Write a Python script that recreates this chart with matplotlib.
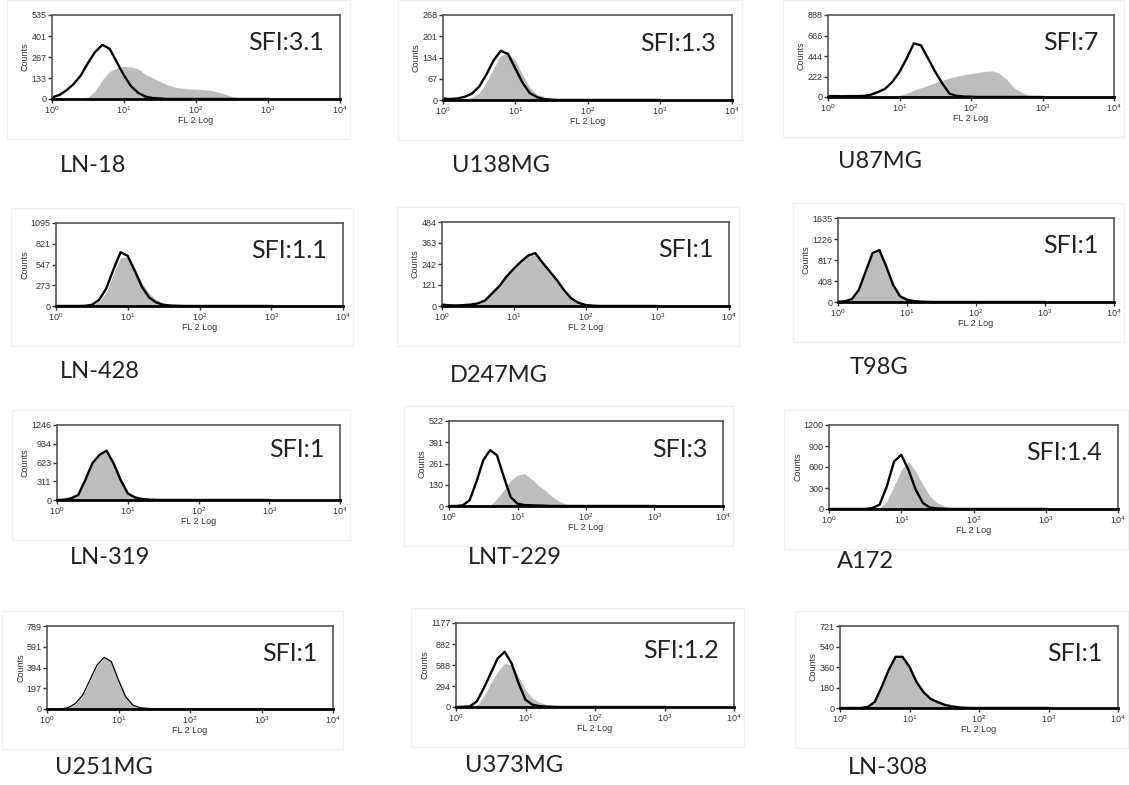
import numpy as np
import matplotlib
matplotlib.use("Agg")
import matplotlib.pyplot as plt
from matplotlib.ticker import NullLocator

plt.rcParams['font.family'] = ['Liberation Sans', 'DejaVu Sans']
plt.rcParams['mathtext.fontset'] = 'custom'
plt.rcParams['mathtext.rm'] = 'Liberation Sans'
plt.rcParams['mathtext.default'] = 'regular'

# === Data: FL2 histograms (log10 channel 0.0 .. 3.0, step 0.1) ===
log_fl = [0.0, 0.1, 0.2, 0.3, 0.4, 0.5, 0.6, 0.7, 0.8, 0.9,
          1.0, 1.1, 1.2, 1.3, 1.4, 1.5, 1.6, 1.7, 1.8, 1.9,
          2.0, 2.1, 2.2, 2.3, 2.4, 2.5, 2.6, 2.7, 2.8, 2.9, 3.0]

ln18_ctrl = [10, 25, 55, 95, 150, 230, 300, 345, 320, 235, 150, 80, 38, 15, 6, 3,
             0, 0, 0, 0, 0, 0, 0, 0, 0, 0, 0, 0, 0, 0, 0]
ln18_stain = [0, 0, 0, 2, 5, 12, 50, 123, 175, 198, 207, 205, 190, 155, 135, 112,
              90, 76, 70, 64, 63, 60, 55, 45, 32, 15, 8, 3, 1, 0, 0]

u138_ctrl = [5, 3, 5, 10, 20, 42, 80, 125, 155, 145, 100, 55, 22, 9, 3, 1,
             0, 0, 0, 0, 0, 0, 0, 0, 0, 0, 0, 0, 0, 0, 0]
u138_stain = [0, 0, 0, 2, 8, 22, 55, 100, 140, 148, 125, 80, 40, 18, 9, 5,
              3, 2, 1, 0, 0, 0, 0, 0, 0, 0, 0, 0, 0, 0, 0]

u87_ctrl = [10, 10, 8, 10, 10, 12, 25, 54, 90, 163, 272, 417, 580, 560, 417, 272,
            145, 36, 12, 5, 3, 0, 0, 0, 0, 0, 0, 0, 0, 0, 0]
u87_stain = [0, 0, 0, 0, 0, 0, 0, 2, 5, 10, 18, 40, 72, 100, 127, 155,
             181, 205, 225, 240, 254, 265, 279, 283, 255, 190, 101, 54, 18, 6, 2]

ln428_ctrl = [0, 0, 0, 0, 2, 15, 80, 230, 480, 710, 660, 460, 250, 110, 45, 15,
              6, 3, 0, 0, 0, 0, 0, 0, 0, 0, 0, 0, 0, 0, 0]
ln428_stain = [0, 0, 0, 0, 0, 8, 55, 180, 420, 640, 650, 490, 300, 165, 80, 38,
               18, 10, 4, 0, 0, 0, 0, 0, 0, 0, 0, 0, 0, 0, 0]

d247_ctrl = [8, 4, 3, 5, 8, 15, 32, 73, 115, 170, 215, 255, 290, 305, 250, 200,
             150, 92, 44, 19, 6, 2, 0, 0, 0, 0, 0, 0, 0, 0, 0]
d247_stain = [0, 0, 0, 0, 4, 12, 30, 68, 112, 168, 210, 250, 285, 295, 245, 195,
              145, 90, 42, 18, 6, 2, 0, 0, 0, 0, 0, 0, 0, 0, 0]

t98_ctrl = [5, 15, 55, 230, 590, 950, 1010, 690, 330, 110, 45, 18, 7, 3, 0, 0,
            0, 0, 0, 0, 0, 0, 0, 0, 0, 0, 0, 0, 0, 0, 0]
t98_stain = [0, 10, 45, 210, 560, 920, 990, 670, 320, 105, 42, 17, 7, 3, 0, 0,
             0, 0, 0, 0, 0, 0, 0, 0, 0, 0, 0, 0, 0, 0, 0]

ln319_ctrl = [0, 5, 28, 83, 332, 609, 748, 820, 609, 332, 111, 44, 17, 6, 2, 0,
              0, 0, 0, 0, 0, 0, 0, 0, 0, 0, 0, 0, 0, 0, 0]
ln319_stain = [0, 3, 22, 75, 310, 590, 735, 805, 620, 350, 130, 55, 25, 12, 6, 3,
               1, 0, 0, 0, 0, 0, 0, 0, 0, 0, 0, 0, 0, 0, 0]

lnt229_ctrl = [0, 0, 4, 35, 148, 281, 343, 312, 179, 55, 14, 6, 4, 3, 2, 0,
               0, 0, 0, 0, 0, 0, 0, 0, 0, 0, 0, 0, 0, 0, 0]
lnt229_stain = [0, 0, 0, 0, 0, 0, 4, 45, 97, 158, 189, 199, 168, 127, 97, 60,
                31, 14, 5, 2, 0, 0, 0, 0, 0, 0, 0, 0, 0, 0, 0]

a172_ctrl = [0, 0, 0, 0, 0, 0, 14, 62, 322, 678, 773, 560, 275, 85, 19, 8,
             3, 0, 0, 0, 0, 0, 0, 0, 0, 0, 0, 0, 0, 0, 0]
a172_stain = [0, 0, 0, 0, 0, 0, 0, 10, 109, 322, 560, 678, 536, 346, 180, 85,
              38, 18, 8, 3, 0, 0, 0, 0, 0, 0, 0, 0, 0, 0, 0]

u251_ctrl = [0, 0, 0, 13, 54, 133, 276, 418, 491, 450, 276, 117, 38, 13, 6, 3,
             2, 0, 0, 0, 0, 0, 0, 0, 0, 0, 0, 0, 0, 0, 0]
u251_stain = [0, 0, 0, 10, 50, 128, 270, 410, 485, 445, 272, 115, 36, 12, 5, 3,
              2, 0, 0, 0, 0, 0, 0, 0, 0, 0, 0, 0, 0, 0, 0]

u373_ctrl = [0, 3, 9, 79, 264, 473, 681, 774, 612, 334, 102, 32, 12, 5, 2, 0,
             0, 0, 0, 0, 0, 0, 0, 0, 0, 0, 0, 0, 0, 0, 0]
u373_stain = [0, 0, 3, 20, 148, 334, 496, 612, 589, 426, 241, 125, 65, 35, 20, 12,
              8, 4, 2, 0, 0, 0, 0, 0, 0, 0, 0, 0, 0, 0, 0]

ln308_ctrl = [0, 0, 0, 0, 9, 53, 185, 333, 450, 450, 362, 230, 141, 82, 53, 29,
              15, 6, 2, 0, 0, 0, 0, 0, 0, 0, 0, 0, 0, 0, 0]
ln308_stain = [0, 0, 0, 0, 6, 45, 170, 320, 440, 445, 360, 232, 145, 85, 55, 30,
               16, 7, 2, 0, 0, 0, 0, 0, 0, 0, 0, 0, 0, 0, 0]

cell_lines = ['LN-18', 'U138MG', 'U87MG', 'LN-428', 'D247MG', 'T98G',
              'LN-319', 'LNT-229', 'A172', 'U251MG', 'U373MG', 'LN-308']
sfi_labels = ['SFI:3.1', 'SFI:1.3', 'SFI:7', 'SFI:1.1', 'SFI:1', 'SFI:1',
              'SFI:1', 'SFI:3', 'SFI:1.4', 'SFI:1', 'SFI:1.2', 'SFI:1']
ytick_labels = [[0, 133, 267, 401, 535], [0, 67, 134, 201, 268], [0, 222, 444, 666, 888],
                [0, 273, 547, 821, 1095], [0, 121, 242, 363, 484], [0, 408, 817, 1226, 1635],
                [0, 311, 623, 934, 1246], [0, 130, 261, 391, 522], [0, 300, 600, 900, 1200],
                [0, 197, 394, 591, 789], [0, 294, 588, 882, 1177], [0, 180, 360, 540, 721]]
controls = [ln18_ctrl, u138_ctrl, u87_ctrl, ln428_ctrl, d247_ctrl, t98_ctrl,
            ln319_ctrl, lnt229_ctrl, a172_ctrl, u251_ctrl, u373_ctrl, ln308_ctrl]
stained = [ln18_stain, u138_stain, u87_stain, ln428_stain, d247_stain, t98_stain,
           ln319_stain, lnt229_stain, a172_stain, u251_stain, u373_stain, ln308_stain]

# === Layout (pixel boxes of each plot: left, top, right, bottom) ===
W, H = 1129, 785
boxes = [(52, 15, 340, 99), (443, 15, 732, 100), (828, 15, 1114, 97),
         (56, 223, 343, 306), (442, 222, 729, 306), (838, 218, 1114, 302),
         (57, 425, 340, 500), (449, 421, 723, 506), (829, 425, 1118, 509),
         (47, 626, 333, 709), (456, 623, 734, 707), (840, 626, 1118, 708)]
name_pos = [(60, 166), (452, 166), (838, 161),
            (60, 372), (450, 375), (850, 368),
            (70, 558), (468, 558), (837, 562),
            (55, 767), (465, 765), (848, 767)]

fig = plt.figure(figsize=(W / 100, H / 100), dpi=100)
x = 10 ** np.array(log_fl)

for i in range(12):
    l, t, r, b = boxes[i]
    # faint frame around each exported plot image
    fig.add_artist(plt.Rectangle(((l - 45) / W, 1 - (b + 40) / H), (r - l + 55) / W, (b - t + 55) / H,
                                 transform=fig.transFigure, fill=False, ec='#f0f0f0', lw=1))
    ax = fig.add_axes([l / W, 1 - b / H, (r - l) / W, (b - t) / H])
    ymax = ytick_labels[i][-1]
    ax.fill_between(x, stained[i], color='#bdbdbd', lw=0)
    lw = 0.9 if i == 9 else 1.7
    ax.plot(x, controls[i], color='black', lw=lw)
    ax.set_xscale('log')
    ax.set_xlim(1, 1e4)
    ax.set_ylim(0, ymax)
    ax.set_xticks([1, 10, 100, 1000, 10000])
    ax.set_xticklabels(['$10^0$', '$10^1$', '$10^2$', '$10^3$', '$10^4$'])
    ax.xaxis.set_minor_locator(NullLocator())
    ax.set_yticks(ytick_labels[i])
    ax.set_yticklabels([str(v) for v in ytick_labels[i]])
    ax.tick_params(direction='out', length=3, width=1, labelsize=6.5, pad=1,
                   colors='#333333')
    ax.set_xlabel('FL 2 Log', fontsize=6.5, labelpad=0, color='#333333')
    ax.set_ylabel('Counts', fontsize=6.5, labelpad=1, color='#333333')
    for s in ['top', 'right', 'left']:
        ax.spines[s].set_color('#555555')
        ax.spines[s].set_linewidth(1.2)
    ax.spines['bottom'].set_color('black')
    ax.spines['bottom'].set_linewidth(2)
    ax.text(0.945, 0.67, sfi_labels[i], transform=ax.transAxes, ha='right', va='center',
            fontsize=18, family='Lato', color='#222222')
    nx, ny = name_pos[i]
    fig.text(nx / W, 1 - ny / H, cell_lines[i], fontsize=17, family='Lato',
             va='center', ha='left', color='#222222')

plt.savefig('out.png', dpi=100)
